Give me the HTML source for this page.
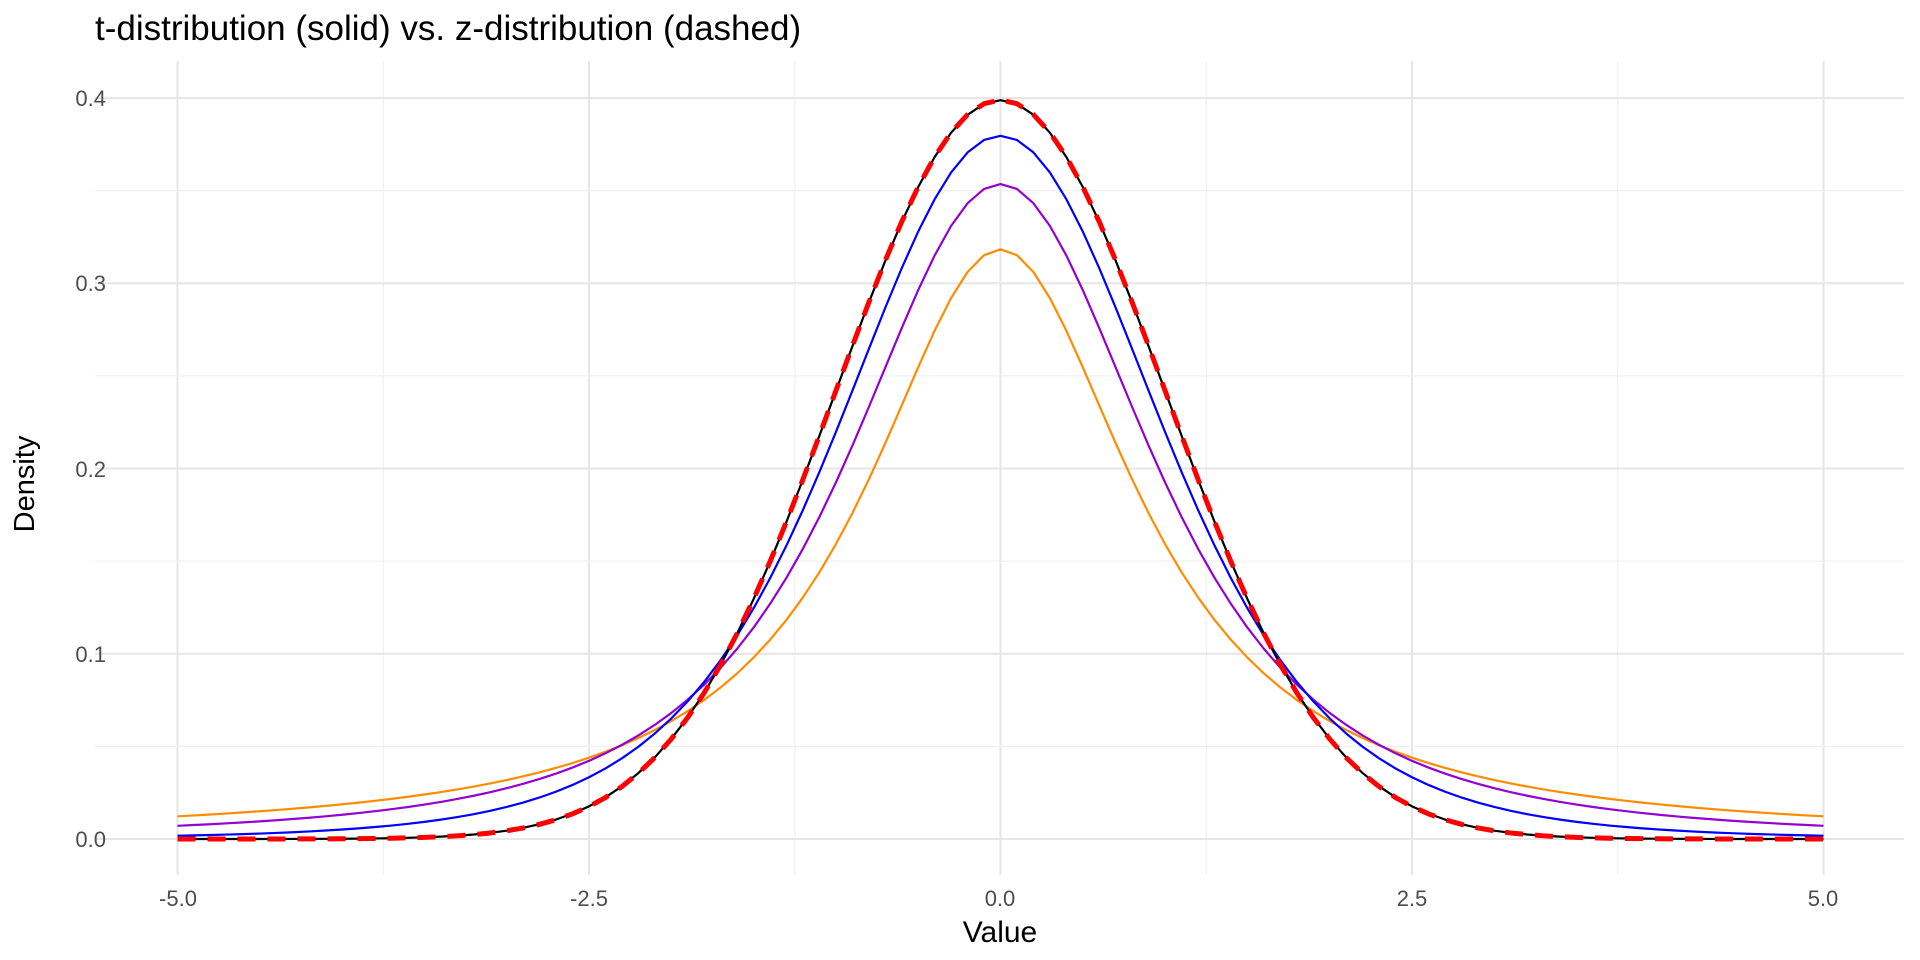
<!DOCTYPE html>
<html><head><meta charset="utf-8"><style>
html,body{margin:0;padding:0;background:#fff;}
svg{display:block;font-family:"Liberation Sans",sans-serif;}
</style></head><body>
<svg id="s" width="1920" height="960" xmlns="http://www.w3.org/2000/svg">
<rect width="1920" height="960" fill="#fff"/>
<g id="grid"></g>
<g id="curves" fill="none" stroke-linejoin="round"></g>
<text x="95" y="40" font-size="35" fill="#000">t-distribution (solid) vs. z-distribution (dashed)</text>
<g font-size="22" fill="#4d4d4d" text-anchor="end">
<text x="106" y="106">0.4</text><text x="106" y="291">0.3</text><text x="106" y="477">0.2</text><text x="106" y="662">0.1</text><text x="106" y="847">0.0</text>
</g>
<g font-size="22" fill="#4d4d4d" text-anchor="middle">
<text x="178" y="906">-5.0</text><text x="589" y="906">-2.5</text><text x="1000" y="906">0.0</text><text x="1412" y="906">2.5</text><text x="1823" y="906">5.0</text>
</g>
<text x="1000" y="942" font-size="30" text-anchor="middle" fill="#000">Value</text>
<text transform="translate(34,484) rotate(-90)" font-size="29" text-anchor="middle" fill="#000">Density</text>
</svg>
<script>
var X=function(v){return 1000.5+v*164.6;};
var Y=function(d){return 839-d*1852.5;};
var g=document.getElementById('grid'),c=document.getElementById('curves');
var h='';
for(var v=-5;v<=5.001;v+=1.25){var maj=Math.abs((v/2.5)-Math.round(v/2.5))<1e-6;
 h+='<line x1="'+X(v)+'" x2="'+X(v)+'" y1="61" y2="875" stroke="'+(maj?'#e6e6e6':'#f0f0f0')+'" stroke-width="'+(maj?2:1.2)+'"/>';}
for(var d=0;d<=0.4001;d+=0.05){var maj=Math.abs(d*10-Math.round(d*10))<1e-6;
 h+='<line x1="95" x2="1904" y1="'+Y(d)+'" y2="'+Y(d)+'" stroke="'+(maj?'#e6e6e6':'#f0f0f0')+'" stroke-width="'+(maj?2:1.2)+'"/>';}
g.innerHTML=h;
function lg(x){var cof=[76.18009172947146,-86.50532032941677,24.01409824083091,-1.231739572450155,0.1208650973866179e-2,-0.5395239384953e-5];var y=x,t=x+5.5;t-=(x+0.5)*Math.log(t);var s=1.000000000190015;for(var j=0;j<6;j++)s+=cof[j]/++y;return -t+Math.log(2.5066282746310005*s/x);}
function tpdf(x,n){return Math.exp(lg((n+1)/2)-lg(n/2))/Math.sqrt(n*Math.PI)*Math.pow(1+x*x/n,-(n+1)/2);}
function npdf(x){return Math.exp(-x*x/2)/Math.sqrt(2*Math.PI);}
function path(f){var p='';for(var i=0;i<=100;i++){var x=-5+i*0.1;p+=(i?'L':'M')+X(x).toFixed(2)+','+Y(f(x)).toFixed(2);}return p;}
var o='';
o+='<path d="'+path(function(x){return tpdf(x,1);})+'" stroke="#ff8c00" stroke-width="2.2"/>';
o+='<path d="'+path(function(x){return tpdf(x,2);})+'" stroke="#9400d3" stroke-width="2.2"/>';
o+='<path d="'+path(function(x){return tpdf(x,5);})+'" stroke="#0000ff" stroke-width="2.2"/>';
o+='<path d="'+path(function(x){return tpdf(x,1000);})+'" stroke="#000" stroke-width="2.2"/>';
o+='<path d="'+path(npdf)+'" stroke="#ff0000" stroke-width="5" stroke-dasharray="18,12"/>';
c.innerHTML=o;
</script>
</body></html>
